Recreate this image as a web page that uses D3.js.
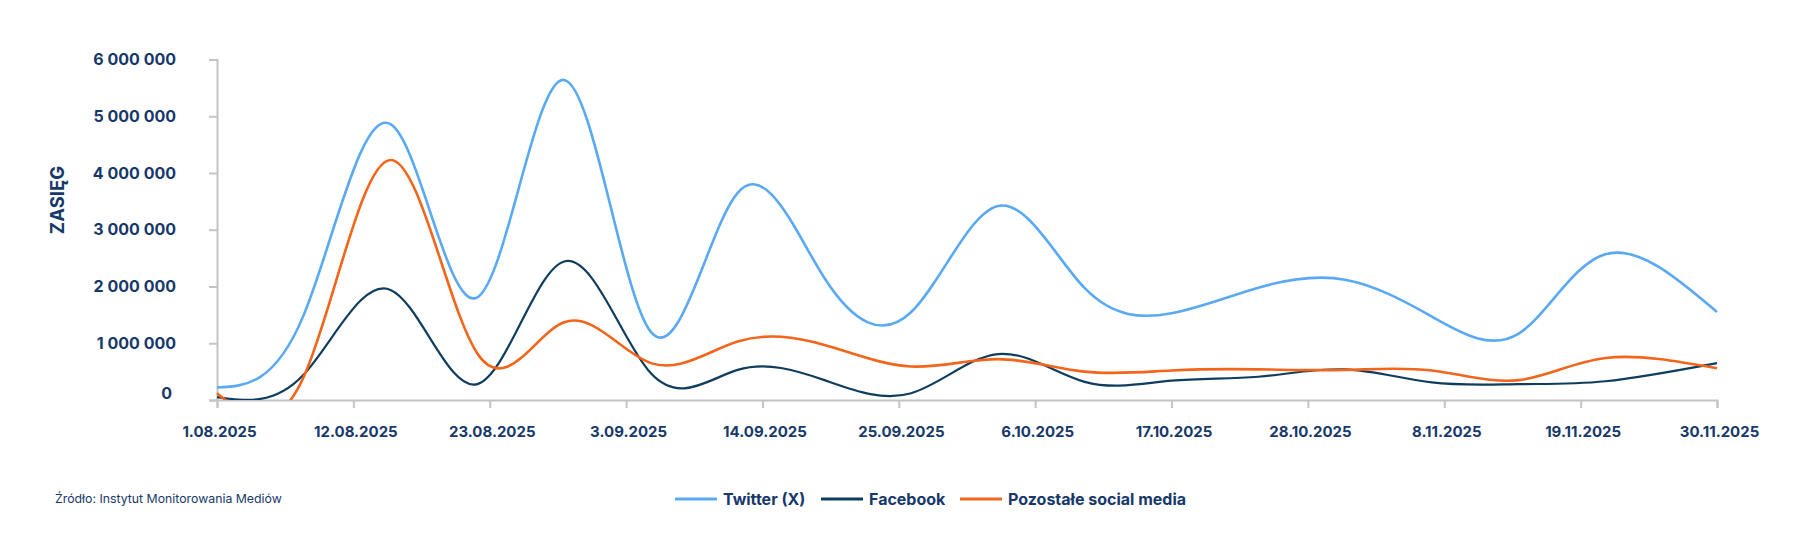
<!DOCTYPE html>
<html>
<head>
<meta charset="utf-8">
<script src="https://cdn.jsdelivr.net/npm/d3@7"></script>
<style>
  html, body { margin: 0; padding: 0; background: #ffffff; }
  svg { display: block; }
</style>
</head>
<body>
<svg id="chart" width="1800" height="550"></svg>
<script>
// ---- data ----
const dates = ["2025-08-01","2025-08-08","2025-08-15","2025-08-22","2025-08-29","2025-09-05",
               "2025-09-12","2025-09-19","2025-09-26","2025-10-03","2025-10-10","2025-10-17",
               "2025-10-24","2025-10-31","2025-11-07","2025-11-14","2025-11-21","2025-11-30"];
const twitter  = [220000,1500000,4860000,1810000,5640000,1200000,3650000,2150000,1550000,3420000,
                  1970000,1530000,1980000,2120000,1470000,1170000,2570000,1550000];
const facebook = [50000,450000,1940000,280000,2440000,470000,530000,350000,120000,810000,
                  320000,340000,410000,540000,310000,280000,330000,650000];
const others   = [120000,410000,4230000,820000,1370000,650000,1030000,970000,590000,720000,
                  500000,520000,540000,530000,520000,350000,740000,560000];
const seriesNames = ["Twitter (X)", "Facebook", "Pozostałe social media"];
const tickDates = ["2025-08-01","2025-08-12","2025-08-23","2025-09-03","2025-09-14","2025-09-25",
                   "2025-10-06","2025-10-17","2025-10-28","2025-11-08","2025-11-19","2025-11-30"];
const yTicks = [0,1000000,2000000,3000000,4000000,5000000,6000000];
const yTitle = "ZASIĘG";
const sourceText = "Źródło: Instytut Monitorowania Mediów";

(function () {
// ---- setup ----
const parse = d3.timeParse("%Y-%m-%d");
const fmtDate = d3.timeFormat("%-d.%m.%Y");
const fmtNum = v => d3.format(",")(v).replace(/,/g, " ");
const textColor = "#17386a";
const axisColor = "#c4c4c4";
const colors = ["#5aa9f4", "#0f3d5f", "#f2651a"];
const font = "Inter, 'Liberation Sans', Arial, sans-serif";

const svg = d3.select("#chart");
const pLeft = 217, pRight = 1717, pTop = 59.5, pBottom = 400;

const x = d3.scaleTime()
  .domain([parse(dates[0]), parse(dates[dates.length - 1])])
  .range([pLeft, pRight]);
const y = d3.scaleLinear().domain([0, 6000000]).range([pBottom, pTop]);

// clip
svg.append("defs").append("clipPath").attr("id", "plotclip")
  .append("rect").attr("x", pLeft - 2).attr("y", 0).attr("width", pRight - pLeft + 4).attr("height", pBottom);

// y axis
const yAxis = d3.axisLeft(y).tickValues(yTicks).tickSize(8).tickFormat(fmtNum).tickPadding(33);
const gy = svg.append("g").attr("transform", `translate(${pLeft},0)`).call(yAxis);
gy.select(".domain").attr("stroke", axisColor).attr("stroke-width", 2);
gy.selectAll(".tick line").attr("stroke", axisColor).attr("stroke-width", 2);
gy.selectAll(".tick text")
  .attr("fill", textColor).attr("font-family", font).attr("font-weight", 700)
  .attr("font-size", 16)
  .attr("dy", d => d === 0 ? "-0.12em" : "0.32em")
  .attr("dx", d => d === 0 ? "-4" : "0");

// x axis
const xAxis = d3.axisBottom(x).tickValues(tickDates.map(parse)).tickSize(8).tickFormat(fmtDate).tickPadding(18);
const gx = svg.append("g").attr("transform", `translate(0,${pBottom})`).call(xAxis);
gx.select(".domain").attr("stroke", axisColor).attr("stroke-width", 2);
gx.selectAll(".tick line").attr("stroke", axisColor).attr("stroke-width", 2);
gx.selectAll(".tick text")
  .attr("fill", textColor).attr("font-family", font).attr("font-weight", 700)
  .attr("font-size", 15).attr("dx", 2);

// y title
svg.append("text")
  .attr("transform", "translate(64,200) rotate(-90)")
  .attr("text-anchor", "middle")
  .attr("fill", textColor).attr("font-family", font).attr("font-weight", 700)
  .attr("font-size", 18.5)
  .text(yTitle);

// lines
const allSeries = [twitter, facebook, others];
const widths = [2.6, 2.2, 2.6];
const line = d3.line()
  .x((d, i) => x(parse(dates[i])))
  .y(d => y(d))
  .curve(d3.curveNatural);
const plot = svg.append("g").attr("clip-path", "url(#plotclip)");
[0, 1, 2].forEach(k => {
  plot.append("path")
    .datum(allSeries[k])
    .attr("fill", "none")
    .attr("stroke", colors[k])
    .attr("stroke-width", widths[k])
    .attr("stroke-linejoin", "round")
    .attr("d", line);
});

// legend
const legendX = [675, 821, 960];
const legend = svg.append("g").attr("font-family", font).attr("font-weight", 700).attr("font-size", 16);
seriesNames.forEach((name, k) => {
  legend.append("line")
    .attr("x1", legendX[k]).attr("x2", legendX[k] + 42)
    .attr("y1", 499).attr("y2", 499)
    .attr("stroke", colors[k]).attr("stroke-width", 3);
  legend.append("text")
    .attr("x", legendX[k] + 48).attr("y", 499).attr("dy", "0.35em")
    .attr("fill", textColor)
    .text(name);
});

// source
svg.append("text")
  .attr("x", 55).attr("y", 499).attr("dy", "0.35em")
  .attr("fill", textColor).attr("font-family", font).attr("font-size", 12.3)
  .text(sourceText);
})();
</script>
</body>
</html>
